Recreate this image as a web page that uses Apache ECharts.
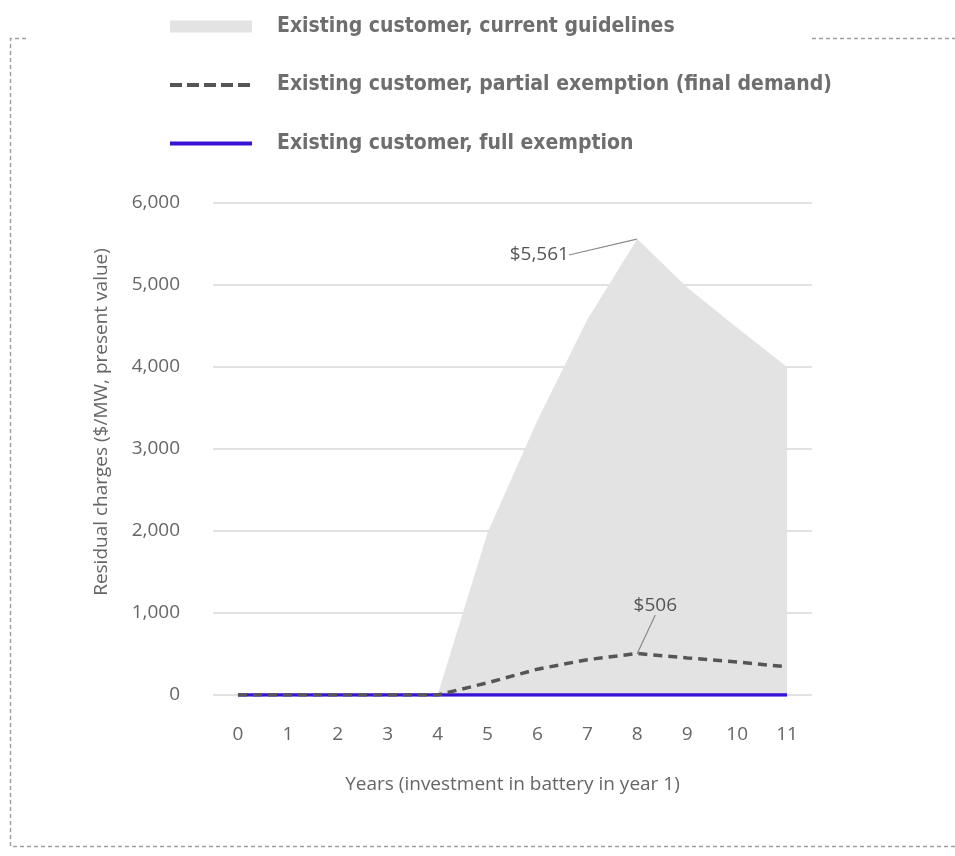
<!DOCTYPE html>
<html>
<head>
<meta charset="utf-8">
<script src="https://cdn.jsdelivr.net/npm/echarts@6/dist/echarts.min.js"></script>
<style>
html,body{margin:0;padding:0;background:#fff;}
#chart{width:955px;height:856px;}
</style>
</head>
<body>
<div id="chart"></div>
<script>
var years = ['0','1','2','3','4','5','6','7','8','9','10','11'];
var currentGuidelines = [0, 0, 0, 0, 0, 1980, 3350, 4580, 5561, 4970, 4480, 4000];
var partialExemption = [0, 0, 0, 0, 0, 149, 315, 431, 506, 452, 403, 343];
var fullExemption = [0, 0, 0, 0, 0, 0, 0, 0, 0, 0, 0, 0];
var yTicks = {min: 0, max: 6000, interval: 1000};
var seriesNames = [
  'Existing customer, current guidelines',
  'Existing customer, partial exemption (final demand)',
  'Existing customer, full exemption'
];
var peakLabels = {current: '$5,561', partial: '$506'};

var font = '"Open Sans", "Noto Sans", sans-serif';
var legendFont = '"Liberation Sans Narrow", "DejaVu Sans Condensed", "Roboto Condensed", sans-serif';

function withPeak(arr, text, dotColor) {
  var peakIdx = arr.indexOf(Math.max.apply(null, arr));
  return arr.map(function (v, i) {
    if (i !== peakIdx) return v;
    return {
      value: v,
      symbol: 'circle',
      symbolSize: 1,
      itemStyle: {color: dotColor},
      label: {
        show: true, formatter: text, color: '#555', fontFamily: font, fontSize: 19,
        position: 'top', distance: 0, padding: [0, 8, 0, 0]
      },
      labelLine: {show: true, lineStyle: {color: '#8a8a8a', width: 1.2}}
    };
  });
}

var hiddenDot = {color: 'rgba(0,0,0,0)', borderWidth: 0, borderColor: 'rgba(0,0,0,0)'};

var chart = echarts.init(document.getElementById('chart'), null, {renderer: 'canvas'});
chart.setOption({
  backgroundColor: '#fff',
  animation: false,
  legend: {
    orient: 'vertical',
    left: 163,
    top: 11,
    itemWidth: 82,
    itemHeight: 12,
    itemGap: 37.5,
    textStyle: {
      fontFamily: legendFont, fontWeight: 'bold', fontSize: 21, color: '#6e6e6e',
      padding: [0, 0, 0, 20]
    },
    data: [
      {name: seriesNames[0], icon: 'rect', itemStyle: {color: '#e3e3e3'}},
      {name: seriesNames[1], itemStyle: hiddenDot, lineStyle: {width: 4, type: [12, 5]}},
      {name: seriesNames[2], itemStyle: hiddenDot, lineStyle: {width: 4}}
    ]
  },
  grid: {left: 213, right: 143, top: 203, bottom: 161},
  xAxis: {
    type: 'category',
    data: years,
    boundaryGap: true,
    axisLine: {show: false},
    axisTick: {show: false},
    axisLabel: {color: '#666', fontFamily: font, fontSize: 19, margin: 30},
    name: 'Years (investment in battery in year 1)',
    nameLocation: 'middle',
    nameGap: 80,
    nameTextStyle: {color: '#666', fontFamily: font, fontSize: 19}
  },
  yAxis: {
    type: 'value',
    min: yTicks.min, max: yTicks.max, interval: yTicks.interval,
    axisLine: {show: false},
    axisTick: {show: false},
    splitLine: {lineStyle: {color: '#d9d9d9', width: 1.5}},
    axisLabel: {
      color: '#666', fontFamily: font, fontSize: 19, margin: 33,
      formatter: function (v) { return v.toLocaleString('en-US'); }
    },
    name: 'Residual charges ($/MW, present value)',
    nameLocation: 'middle',
    nameGap: 102,
    nameTextStyle: {color: '#666', fontFamily: font, fontSize: 19, padding: [0, 0, 0, 54]}
  },
  series: [
    {
      name: seriesNames[0],
      type: 'line',
      data: withPeak(currentGuidelines, peakLabels.current, '#e3e3e3'),
      symbol: 'none',
      lineStyle: {width: 0, color: '#e3e3e3'},
      itemStyle: {color: '#e3e3e3'},
      areaStyle: {color: '#e3e3e3', opacity: 1},
      labelLayout: {dx: -94, dy: 26},
      z: 1
    },
    {
      name: seriesNames[2],
      type: 'line',
      data: fullExemption,
      symbol: 'none',
      lineStyle: {width: 3.5, color: '#3a12d6'},
      itemStyle: {color: '#3a12d6'},
      z: 2
    },
    {
      name: seriesNames[1],
      type: 'line',
      data: withPeak(partialExemption, peakLabels.partial, '#555'),
      symbol: 'none',
      lineStyle: {width: 3.5, color: '#555', type: [9, 6]},
      itemStyle: {color: '#555'},
      labelLayout: {dx: 22, dy: -38},
      z: 3
    }
  ],
  graphic: [
    {
      type: 'polyline', silent: true,
      shape: {points: [[26, 38.5], [10.5, 38.5], [10.5, 846.5], [955, 846.5]]},
      style: {stroke: '#a0a0a0', lineWidth: 1.5, lineDash: [4, 3], fill: null}
    },
    {
      type: 'polyline', silent: true,
      shape: {points: [[812, 38.5], [955, 38.5]]},
      style: {stroke: '#a0a0a0', lineWidth: 1.5, lineDash: [4, 3], fill: null}
    }
  ]
});
</script>
</body>
</html>
